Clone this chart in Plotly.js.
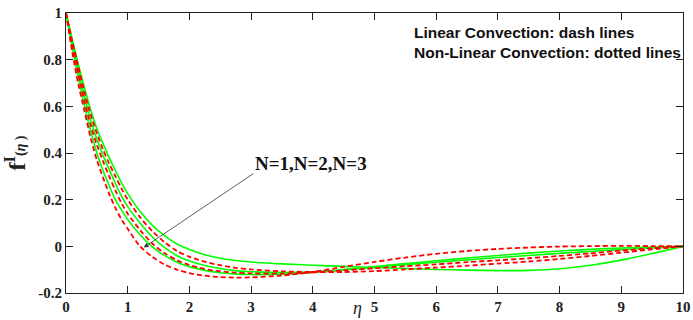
<!DOCTYPE html>
<html>
<head>
<meta charset="utf-8">
<script src="https://cdn.plot.ly/plotly-3.0.1.min.js"></script>
<style>html,body{margin:0;padding:0;background:#fff;}#chart{width:693px;height:320px;}</style>
</head>
<body>
<div id="chart"></div>
<script>
const eta = [0,0.1,0.2,0.3,0.4,0.5,0.6,0.7,0.8,0.9,1.0,1.2,1.4,1.6,1.8,2.0,2.25,2.5,2.75,3.0,3.5,4.0,4.5,5.0,5.5,6.0,6.5,7.0,7.5,8.0,8.5,9.0,9.5,10];

// Green solid curves
const greenA = [1,0.89,0.78,0.68,0.585,0.505,0.44,0.38,0.325,0.272,0.226,0.15,0.09,0.045,0.01,-0.014,-0.036,-0.051,-0.061,-0.067,-0.075,-0.081,-0.086,-0.091,-0.095,-0.099,-0.102,-0.104,-0.103,-0.096,-0.081,-0.059,-0.031,0];
const greenB = [1,0.875,0.755,0.643,0.54,0.46,0.39,0.33,0.27,0.215,0.17,0.10,0.04,-0.006,-0.04,-0.063,-0.082,-0.095,-0.104,-0.109,-0.112,-0.109,-0.101,-0.090,-0.079,-0.068,-0.058,-0.048,-0.039,-0.030,-0.022,-0.014,-0.007,0];
const greenC = [1,0.855,0.725,0.60,0.495,0.40,0.325,0.26,0.20,0.155,0.115,0.05,-0.002,-0.04,-0.068,-0.087,-0.103,-0.113,-0.119,-0.121,-0.119,-0.112,-0.100,-0.087,-0.074,-0.062,-0.050,-0.039,-0.029,-0.020,-0.013,-0.007,-0.003,0];

// Red dashed curves
const redA = [1,0.88,0.77,0.66,0.565,0.485,0.415,0.355,0.30,0.248,0.20,0.125,0.065,0.017,-0.02,-0.045,-0.066,-0.081,-0.092,-0.099,-0.107,-0.110,-0.110,-0.106,-0.099,-0.091,-0.083,-0.074,-0.065,-0.054,-0.041,-0.027,-0.013,0];
const redB = [1,0.865,0.74,0.622,0.52,0.435,0.365,0.30,0.24,0.185,0.14,0.07,0.012,-0.03,-0.06,-0.08,-0.097,-0.107,-0.113,-0.116,-0.117,-0.112,-0.103,-0.094,-0.085,-0.077,-0.068,-0.060,-0.051,-0.041,-0.030,-0.018,-0.008,0];
const redC = [1,0.835,0.695,0.58,0.465,0.37,0.295,0.225,0.165,0.115,0.075,0.0,-0.045,-0.078,-0.100,-0.115,-0.126,-0.132,-0.134,-0.133,-0.125,-0.110,-0.088,-0.067,-0.048,-0.032,-0.020,-0.011,-0.005,-0.001,0.001,0.002,0.001,0];

const greenSeries = [greenA, greenB, greenC];
const redSeries = [redA, redB, redC];

const xTicks = [0,1,2,3,4,5,6,7,8,9,10];
const yTicks = [-0.2,0,0.2,0.4,0.6,0.8,1];
const yTickText = ['-0.2','0','0.2','0.4','0.6','0.8','1'];

const traces = [];
greenSeries.forEach(s => traces.push({
  x: eta, y: s, mode: 'lines', type: 'scatter',
  line: {color: '#00ff00', width: 1.6, shape: 'spline', smoothing: 0.8}, hoverinfo: 'skip'
}));
redSeries.forEach(s => traces.push({
  x: eta, y: s, mode: 'lines', type: 'scatter',
  line: {color: '#ff0000', width: 1.8, dash: '5px,3px', shape: 'spline', smoothing: 0.8}, hoverinfo: 'skip'
}));

const tickFont = {family: 'Liberation Serif, Times New Roman, serif', size: 15, weight: 'bold', color: '#222'};

const layout = {
  width: 693, height: 320,
  margin: {l: 66, r: 10, t: 13, b: 27},
  paper_bgcolor: '#fff', plot_bgcolor: '#fff',
  showlegend: false,
  xaxis: {
    range: [0, 10], tickvals: xTicks, ticktext: xTicks.map(String),
    ticks: 'inside', ticklen: 7, tickwidth: 1, tickcolor: '#222',
    showline: true, linecolor: '#222', linewidth: 1, mirror: 'ticks',
    showgrid: false, zeroline: false, tickfont: tickFont
  },
  yaxis: {
    range: [-0.2, 1], tickvals: yTicks, ticktext: yTickText,
    ticks: 'inside', ticklen: 7, tickwidth: 1, tickcolor: '#222',
    showline: true, linecolor: '#222', linewidth: 1, mirror: 'ticks',
    showgrid: false, zeroline: false, tickfont: tickFont,
    title: {text: 'f<sup>I</sup><span style="font-size:14px">(<i>η</i> )</span>',
            font: {family: 'Liberation Serif, Times New Roman, serif', size: 24, weight: 'bold', color: '#222'},
            standoff: 12}
  },
  annotations: [
    {x: 4.72, y: -0.2, xref: 'x', yref: 'y', yshift: -15, text: '<i>η</i>', showarrow: false,
     font: {family: 'Liberation Serif, Times New Roman, serif', size: 18, color: '#222'}},
    {x: 1.26, y: -0.005, xref: 'x', yref: 'y', ax: 3.06, ay: 0.316, axref: 'x', ayref: 'y',
     text: '', showarrow: true, arrowhead: 2, arrowsize: 1.2, arrowwidth: 0.8, arrowcolor: '#333'},
    {x: 3.03, y: 0.353, xref: 'x', yref: 'y', xanchor: 'left', text: 'N=1,N=2,N=3', showarrow: false,
     font: {family: 'Liberation Serif, Times New Roman, serif', size: 19, weight: 'bold', color: '#111'}},
    {x: 5.61, y: 0.872, xref: 'x', yref: 'y', xanchor: 'left', align: 'left',
     text: 'Linear Convection: dash lines<br>Non-Linear Convection: dotted lines', showarrow: false,
     font: {family: 'Liberation Sans, Arial, sans-serif', size: 15.5, weight: 'bold', color: '#111'}}
  ]
};

Plotly.newPlot('chart', traces, layout, {staticPlot: true, displayModeBar: false});
</script>
</body>
</html>
